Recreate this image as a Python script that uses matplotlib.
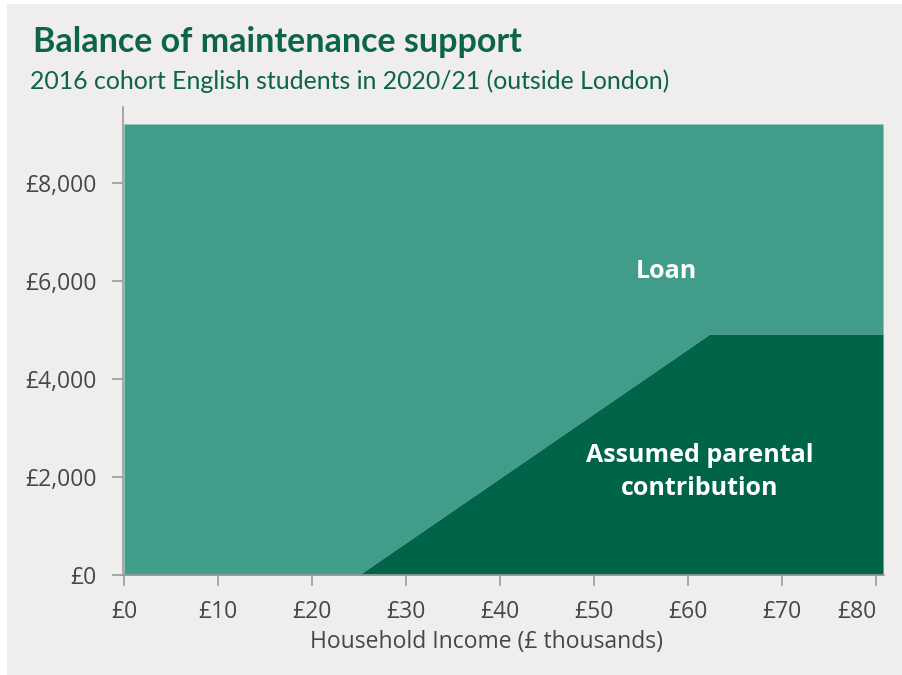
import matplotlib.pyplot as plt
from matplotlib.patches import Rectangle

# Maintenance support, 2016 cohort, 2020/21, outside London
income_k = [0, 25.0, 62.3, 80.75]           # household income (£ thousands)
max_support = [9203, 9203, 9203, 9203]      # total maintenance (£)
parental = [0, 0, 4914, 4914]               # assumed parental contribution (£)

x_ticks = [0, 10, 20, 30, 40, 50, 60, 70, 80]
x_labels = ['£0', '£10', '£20', '£30', '£40', '£50', '£60', '£70', '£80']
y_ticks = [0, 2000, 4000, 6000, 8000]
y_labels = ['£0', '£2,000', '£4,000', '£6,000', '£8,000']

bg = '#efeeec'
loan_col = '#419d89'
parent_col = '#006548'
title_col = '#0b6546'
text_col = '#474747'
axis_col = '#9a9a9a'

plt.rcParams['font.family'] = ['Open Sans', 'DejaVu Sans']

fig = plt.figure(figsize=(9.02, 6.75), dpi=100, facecolor='white')
fig.patches.append(Rectangle((7 / 902, 0), 1, 1 - 4 / 675, transform=fig.transFigure,
                             facecolor=bg, edgecolor='none', zorder=-1))

ax = fig.add_axes([123 / 902, 1 - 575 / 675, (884 - 123) / 902, (575 - 107) / 675])
ax.set_facecolor(bg)

ax.fill_between(income_k, parental, max_support, color=loan_col, lw=0)
ax.fill_between(income_k, 0, parental, color=parent_col, lw=0)

ax.set_xlim(-0.1, 80.85)
ax.set_ylim(0, 9550)

ax.set_xticks(x_ticks)
ax.set_xticklabels(x_labels)
ax.get_xticklabels()[-1].set_ha('right')
ax.set_yticks(y_ticks)
ax.set_yticklabels(y_labels)

for s in ['top', 'right']:
    ax.spines[s].set_visible(False)
for s in ['left', 'bottom']:
    ax.spines[s].set_color(axis_col)
    ax.spines[s].set_linewidth(1.2)

ax.tick_params(axis='both', colors=axis_col, labelcolor=text_col, labelsize=16.5,
               length=8, width=1.2, direction='out')
ax.tick_params(axis='x', pad=10)
ax.tick_params(axis='y', pad=11)

ax.set_xlabel('Household Income (£ thousands)', fontsize=16.5, color=text_col, labelpad=0)
ax.xaxis.set_label_coords((487 - 123) / (884 - 123), -0.118)

ax.text(57.7, 6200, 'Loan', color='white', fontsize=18, fontweight='bold',
        ha='center', va='center')
ax.text(61.2, 2100, 'Assumed parental\ncontribution', color='white', fontsize=18,
        fontweight='bold', ha='center', va='center', linespacing=1.45)

fig.text(33 / 902, 1 - 52 / 675, 'Balance of maintenance support', color=title_col,
         fontsize=24.5, fontweight='bold', family=['Lato', 'DejaVu Sans'])
fig.text(30 / 902, 1 - 89 / 675, '2016 cohort English students in 2020/21 (outside London)',
         color=title_col, fontsize=17.9, family=['Lato', 'DejaVu Sans'])

fig.savefig('out.png', dpi=100, facecolor=fig.get_facecolor())
